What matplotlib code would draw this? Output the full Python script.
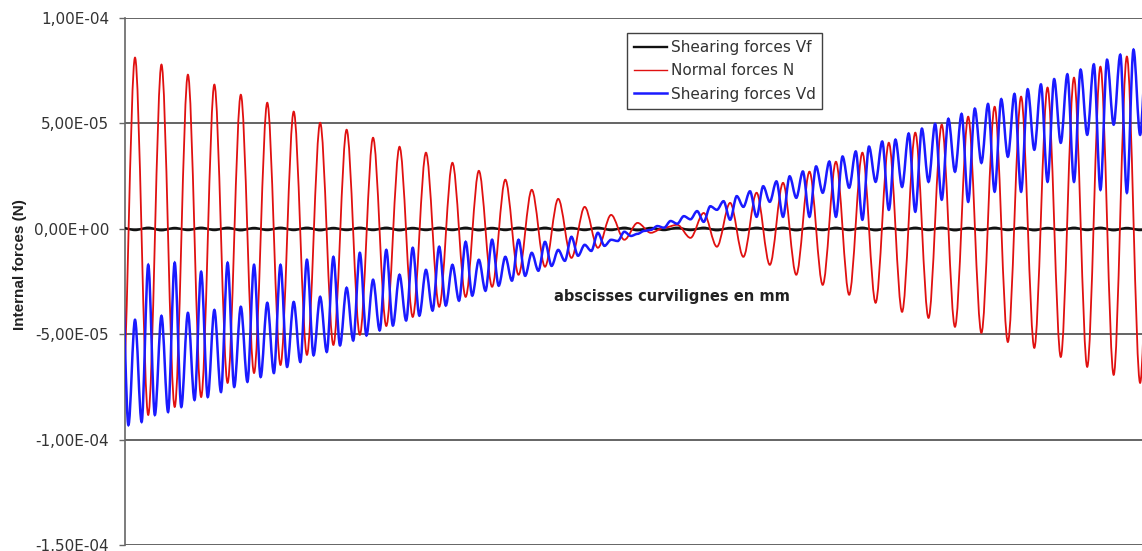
import numpy as np
import matplotlib
matplotlib.use("Agg")
import matplotlib.pyplot as plt
from matplotlib.path import Path
from matplotlib.patches import PathPatch
from matplotlib.lines import Line2D
from matplotlib.ticker import MultipleLocator, FuncFormatter

plt.rcParams['font.family'] = ['DejaVu Sans']

# ---------------- data (forces in units of 1e-5 N) -------------
# Extrema of each oscillation period k (abscissa grows with k)
# Normal forces N : extremum "A" then extremum "B" in each period
red_A = [8.12, 7.79, 7.31, 6.84, 6.36, 5.98, 5.56, 5.03, 4.70, 4.32, 3.89, 3.61, 3.13,
         2.75, 2.33, 1.85, 1.42, 1.04, 0.66, 0.28, 0.05, -0.43, -0.85, -1.33, -1.71,
         -2.18, -2.66, -3.13, -3.51, -3.94, -4.23, -4.65, -4.94, -5.37, -5.65, -6.08,
         -6.55, -6.93, -7.31]
red_B = [-8.83, -8.45, -7.98, -7.31, -6.84, -6.46, -5.98, -5.51, -5.03, -4.61, -4.18,
         -3.70, -3.23, -2.75, -2.18, -1.80, -1.38, -0.90, -0.52, -0.19, 0.19, 0.75, 1.23,
         1.71, 2.18, 2.71, 3.18, 3.61, 4.08, 4.56, 4.94, 5.32, 5.79, 6.27, 6.70, 7.17,
         7.69, 8.17, 8.50]
red_first = -9.0

# Shearing forces Vd : envelope point, small extremum, envelope point, large extremum
blue_env_a = [-9.31, -8.83, -8.45, -7.98, -7.50, -7.03, -6.55, -6.00, -5.53, -5.06,
              -4.59, -4.12, -3.64, -3.17, -2.70, -2.23, -1.76, -1.28, -0.81, -0.34,
              0.13, 0.60, 1.07, 1.55, 2.02, 2.49, 2.96, 3.43, 3.90, 4.23, 4.75, 5.22,
              5.70, 6.15, 6.62, 7.10, 7.55, 8.02, 8.50]
blue_small = [-4.32, -4.13, -3.99, -3.85, -3.70, -3.51, -3.47, -3.23, -2.80, -2.42,
              -2.18, -1.95, -1.71, -1.47, -1.33, -1.14, -1.00, -0.76, -0.52, -0.24,
              0.05, 0.45, 0.90, 1.04, 1.28, 1.47, 1.71, 1.95, 2.23, 1.99, 2.23, 2.71,
              3.13, 3.42, 3.75, 4.08, 4.46, 4.94, 4.46]
blue_env_b = [-9.16, -8.69, -8.12, -7.74, -7.26, -6.84, -6.32, -5.84, -5.30, -4.82,
              -4.35, -3.88, -3.41, -2.94, -2.46, -1.99, -1.52, -1.05, -0.58, -0.10,
              0.37, 0.84, 1.31, 1.78, 2.25, 2.72, 3.19, 3.67, 4.14, 4.52, 4.98, 5.45,
              5.92, 6.40, 6.85, 7.33, 7.80, 8.26, 8.72]
blue_large = [-1.71, -1.61, -2.04, -1.61, -1.71, -1.71, -1.47, -1.33, -1.14, -1.00,
              -0.90, -0.85, -0.62, -0.52, -0.52, -0.62, -0.38, -0.19, -0.14, -0.05,
              0.24, 0.33, 0.43, 0.57, 0.57, 0.57, 0.57, 0.43, 0.90, 0.81, 1.38, 1.28,
              1.76, 1.76, 2.23, 2.23, 1.85, 1.71, 1.90]
blue_first = -2.0

# Shearing forces Vf : tiny ripple around zero
black_A = [-0.06, -0.07, -0.06, -0.06, -0.07, -0.06, -0.06, -0.07, -0.06, -0.06, -0.07,
           -0.06, -0.06, -0.07, -0.06, -0.06, -0.07, -0.06, -0.06, -0.07, -0.06, -0.06,
           -0.07, -0.06, -0.06, -0.07, -0.06, -0.06, -0.07, -0.06, -0.06, -0.07, -0.06,
           -0.06, -0.07, -0.06, -0.06, -0.07, -0.06]
black_B = [0.05, 0.04, 0.05, 0.05, 0.04, 0.05, 0.05, 0.04, 0.05, 0.05, 0.04, 0.05, 0.05,
           0.04, 0.05, 0.05, 0.04, 0.05, 0.05, 0.04, 0.05, 0.05, 0.04, 0.05, 0.05, 0.04,
           0.05, 0.05, 0.04, 0.05, 0.05, 0.04, 0.05, 0.05, 0.04, 0.05, 0.05, 0.04, 0.05]
black_first = 0.05

series_labels = ["Shearing forces Vf", "Normal forces N", "Shearing forces Vd"]
y_unit = 1e-5

# abscissa grid (mm): period of the oscillation and offsets of the extrema
period = 26.45
x_end = 1017.5
n = len(red_A)
k = np.arange(n)
x_env_a = 3.9 + period * k
x_A = x_env_a + period / 4
x_env_b = x_env_a + period / 2
x_B = x_env_a + 3 * period / 4
x_first = 3.9 - period / 4


def interleave(*arrs):
    return np.column_stack(arrs).ravel()


def smooth_path(xs, ys):
    verts = [(xs[0], ys[0])]
    codes = [Path.MOVETO]
    for i in range(1, len(xs)):
        dx = xs[i] - xs[i - 1]
        verts += [(xs[i - 1] + dx / 3, ys[i - 1]), (xs[i] - dx / 3, ys[i]), (xs[i], ys[i])]
        codes += [Path.CURVE4] * 3
    return Path(verts, codes)


red_x = np.concatenate([[x_first], interleave(x_A, x_B)])
red_y = np.concatenate([[red_first], interleave(red_A, red_B)]) * y_unit
blk_x = red_x
blk_y = np.concatenate([[black_first], interleave(black_A, black_B)]) * y_unit
blue_x = np.concatenate([[x_first], interleave(x_env_a, x_A, x_env_b, x_B)])
blue_y = np.concatenate([[blue_first], interleave(blue_env_a, blue_small, blue_env_b, blue_large)]) * y_unit

# ---------------- figure ----------------
W, H = 1142, 551
fig = plt.figure(figsize=(W / 100, H / 100), dpi=100)
ax = fig.add_axes([124.5 / W, 1 - 545 / H, 1 - 124.5 / W, 527 / H])

c_black = '#111111'
c_red = '#e01010'
c_blue = '#1a1aff'

ax.add_patch(PathPatch(smooth_path(blk_x, blk_y), fill=False, ec=c_black, lw=1.7, zorder=3))
ax.add_patch(PathPatch(smooth_path(red_x, red_y), fill=False, ec=c_red, lw=1.3, zorder=4))
ax.add_patch(PathPatch(smooth_path(blue_x, blue_y), fill=False, ec=c_blue, lw=1.8, zorder=5))

ax.set_xlim(0, x_end)
ax.set_ylim(-1.5e-4, 1e-4)
ax.yaxis.set_major_locator(MultipleLocator(5e-5))
ax.yaxis.set_major_formatter(FuncFormatter(lambda v, p: f"{v:.2E}".replace('.', ',')))
ax.set_xticks([])
ax.tick_params(axis='y', length=4.5, width=1, color='#666666', pad=6.5,
               labelsize=11, labelcolor='#333333')
ax.grid(axis='y', color='#4a4a4a', lw=1.2, zorder=1)
for s in ['top', 'right', 'bottom']:
    ax.spines[s].set_visible(False)
ax.spines['left'].set_color('#666666')
ax.spines['left'].set_linewidth(1.2)

fig.text(20 / W, 1 - 265 / H, "Internal forces (N)", rotation=90, ha='center', va='center',
         fontsize=11, fontweight='bold', family=['Liberation Sans', 'DejaVu Sans'], color='#222222')
ax.text((672 - 124.5) / (W - 124.5), (545 - 297) / 527, "abscisses curvilignes en mm",
        transform=ax.transAxes, ha='center', va='center', fontsize=10.5, fontweight='bold',
        color='#222222')

handles = [Line2D([], [], color=c_black, lw=1.7),
           Line2D([], [], color=c_red, lw=1.0),
           Line2D([], [], color=c_blue, lw=1.8)]
leg = ax.legend(handles, series_labels, loc='upper left',
                bbox_to_anchor=(627 / W, 1 - 33 / H), bbox_transform=fig.transFigure,
                borderaxespad=0, fontsize=11, frameon=True, fancybox=False,
                handlelength=2.2, handletextpad=0.2, labelspacing=0.55, borderpad=0.45)
leg.get_frame().set_edgecolor('#111111')
leg.get_frame().set_linewidth(1.0)
for t in leg.get_texts():
    t.set_color('#333333')

fig.savefig("out.png", dpi=100)
